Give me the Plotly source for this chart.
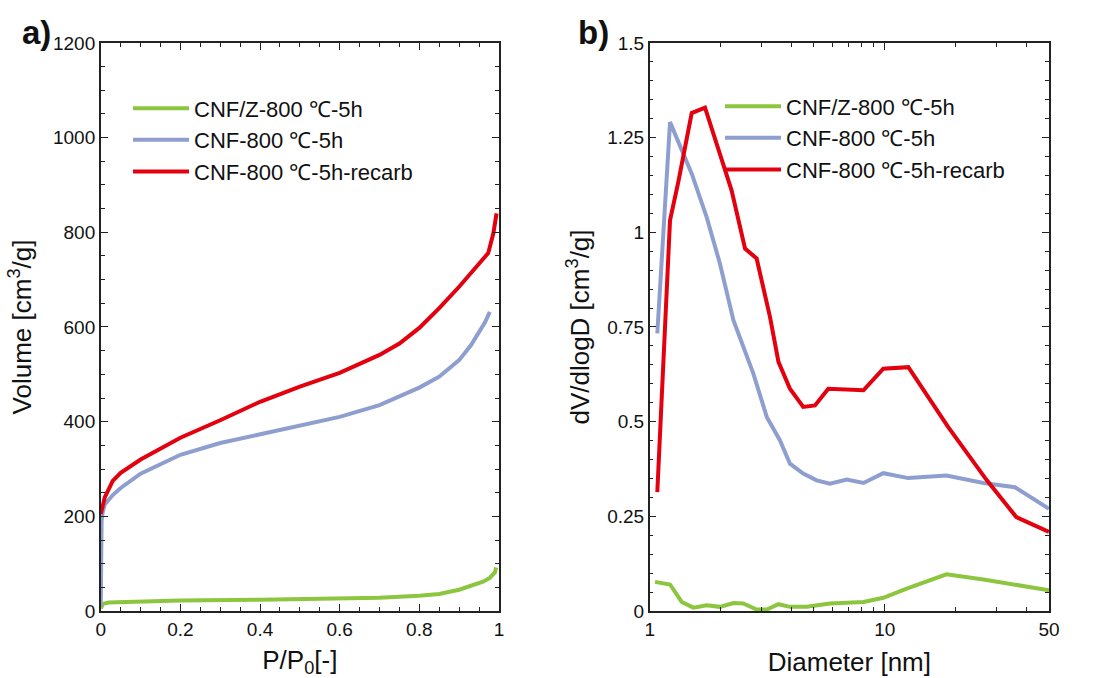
import plotly.graph_objects as go

# ---------- data: panel a (isotherms) ----------
p_green = [0.0, 0.005, 0.02, 0.1, 0.2, 0.4, 0.6, 0.7, 0.8, 0.85, 0.9, 0.93, 0.96, 0.977, 0.99, 0.993]
v_green = [5, 15, 18, 20, 22, 24, 26, 28, 32, 36, 45, 53, 62, 70, 82, 92]

p_blue = [0.0, 0.002, 0.005, 0.01, 0.03, 0.05, 0.1, 0.2, 0.3, 0.4, 0.5, 0.6, 0.7, 0.8, 0.85, 0.9, 0.93, 0.95, 0.965, 0.977]
v_blue = [10, 190, 210, 225, 245, 260, 290, 330, 355, 373, 391, 410, 435, 472, 495, 530, 562, 588, 610, 632]

p_red = [0.0, 0.01, 0.03, 0.05, 0.1, 0.2, 0.3, 0.4, 0.5, 0.6, 0.7, 0.75, 0.8, 0.85, 0.9, 0.95, 0.973, 0.986, 0.994]
v_red = [205, 240, 275, 292, 320, 366, 403, 442, 474, 503, 541, 565, 598, 640, 685, 733, 756, 798, 840]

# ---------- data: panel b (pore size distribution) ----------
d_green = [1.053, 1.22, 1.368, 1.533, 1.747, 1.99, 2.27, 2.50, 2.85, 3.15, 3.53, 3.95, 4.66, 5.85, 8.12, 9.86, 12.4, 18.3, 26.3, 36.3, 50]
y_green = [0.077, 0.070, 0.024, 0.009, 0.015, 0.011, 0.021, 0.020, 0.004, 0.004, 0.018, 0.011, 0.011, 0.020, 0.024, 0.035, 0.059, 0.097, 0.083, 0.070, 0.055]

d_blue = [1.077, 1.22, 1.509, 1.747, 1.99, 2.27, 2.76, 3.15, 3.58, 3.95, 4.50, 5.13, 5.85, 6.89, 8.12, 9.86, 12.6, 18.3, 26.3, 35.8, 50]
y_blue = [0.733, 1.291, 1.155, 1.040, 0.917, 0.768, 0.627, 0.512, 0.451, 0.389, 0.363, 0.345, 0.336, 0.347, 0.338, 0.364, 0.351, 0.358, 0.338, 0.327, 0.270]

d_red = [1.077, 1.22, 1.323, 1.509, 1.719, 2.23, 2.545, 2.85, 3.25, 3.53, 3.95, 4.50, 5.05, 5.75, 8.12, 9.86, 12.6, 18.6, 27.2, 36.3, 50]
y_red = [0.314, 1.032, 1.133, 1.315, 1.329, 1.111, 0.957, 0.931, 0.776, 0.658, 0.587, 0.539, 0.543, 0.587, 0.583, 0.640, 0.644, 0.486, 0.345, 0.248, 0.209]

names = ["CNF/Z-800 \u2103-5h", "CNF-800 \u2103-5h", "CNF-800 \u2103-5h-recarb"]
colors = ["#8cc63e", "#8e9fcf", "#e3000f"]

a_x_ticks = [0, 0.2, 0.4, 0.6, 0.8, 1]
a_x_labels = ["0", "0.2", "0.4", "0.6", "0.8", "1"]
a_y_ticks = [0, 200, 400, 600, 800, 1000, 1200]
b_x_ticks = [1, 10, 50]
b_x_labels = ["1", "10", "50"]
b_x_minor = [2, 3, 4, 5, 6, 7, 8, 9, 20, 30, 40]
b_y_ticks = [0, 0.25, 0.5, 0.75, 1, 1.25, 1.5]
b_y_labels = ["0", "0.25", "0.5", "0.75", "1", "1.25", "1.5"]

FONT = "Liberation Sans, Arial, sans-serif"

fig = go.Figure()
for xs, ys, nm, c in zip([p_green, p_blue, p_red], [v_green, v_blue, v_red], names, colors):
    fig.add_trace(go.Scatter(x=xs, y=ys, mode="lines", name=nm, line=dict(color=c, width=4),
                             xaxis="x", yaxis="y", legend="legend"))
for xs, ys, nm, c in zip([d_green, d_blue, d_red], [y_green, y_blue, y_red], names, colors):
    fig.add_trace(go.Scatter(x=xs, y=ys, mode="lines", name=nm, line=dict(color=c, width=4),
                             xaxis="x2", yaxis="y2", legend="legend2"))

axis_common = dict(showline=True, linecolor="#222", linewidth=1.5, mirror="ticks",
                   ticks="inside", ticklen=7, tickwidth=1.2, tickcolor="#222",
                   showgrid=False, zeroline=False, automargin=False,
                   tickfont=dict(family=FONT, size=19, color="#111"))
TITLE_FONT = dict(family=FONT, size=26, color="#111")

yd = [0.0988, 0.9366]
fig.update_layout(
    width=1099, height=678,
    margin=dict(l=0, r=0, t=0, b=0),
    paper_bgcolor="white", plot_bgcolor="white",
    font=dict(family=FONT, color="#111"),
    xaxis=dict(domain=[0.0917, 0.4540], range=[0, 1], anchor="y",
               tickvals=a_x_ticks, ticktext=a_x_labels,
               minor=dict(dtick=0.05, ticks="inside", ticklen=4, tickcolor="#222"),
               title=dict(text="P/P<sub>0</sub>[-]", font=TITLE_FONT, standoff=14),
               **axis_common),
    yaxis=dict(domain=yd, range=[0, 1200], anchor="x",
               tickvals=a_y_ticks,
               minor=dict(dtick=50, ticks="inside", ticklen=4, tickcolor="#222"),
               title=dict(text="Volume [cm<sup>3</sup>/g]", font=TITLE_FONT, standoff=14),
               **axis_common),
    xaxis2=dict(domain=[0.5912, 0.9545], type="log", range=[0, 1.69897], anchor="y2",
                tickvals=b_x_ticks, ticktext=b_x_labels,
                minor=dict(tickmode="array", tickvals=b_x_minor, ticks="inside", ticklen=4, tickcolor="#222"),
                title=dict(text="Diameter [nm]", font=TITLE_FONT, standoff=14),
                **axis_common),
    yaxis2=dict(domain=yd, range=[0, 1.5], anchor="x2",
                tickvals=b_y_ticks, ticktext=b_y_labels,
                minor=dict(dtick=0.05, ticks="inside", ticklen=4, tickcolor="#222"),
                title=dict(text="dV/dlogD [cm<sup>3</sup>/g]", font=TITLE_FONT, standoff=10),
                **axis_common),
    legend=dict(x=128 / 1099, y=0.871, xanchor="left", yanchor="top", bgcolor="rgba(0,0,0,0)",
                font=dict(family=FONT, size=22, color="#111"), itemwidth=56, tracegroupgap=0),
    legend2=dict(x=720 / 1099, y=0.874, xanchor="left", yanchor="top", bgcolor="rgba(0,0,0,0)",
                 font=dict(family=FONT, size=22, color="#111"), itemwidth=56, tracegroupgap=0),
    showlegend=True,
    annotations=[
        dict(text="<b>a)</b>", x=0.018, y=1 - 33 / 678, xref="paper", yref="paper",
             xanchor="left", yanchor="middle", showarrow=False, font=dict(family=FONT, size=33, color="#111")),
        dict(text="<b>b)</b>", x=0.524, y=1 - 33 / 678, xref="paper", yref="paper",
             xanchor="left", yanchor="middle", showarrow=False, font=dict(family=FONT, size=33, color="#111")),
    ],
)

fig.write_html("out.html", config={"displayModeBar": False},
               post_script="document.body.style.margin='0px';")
